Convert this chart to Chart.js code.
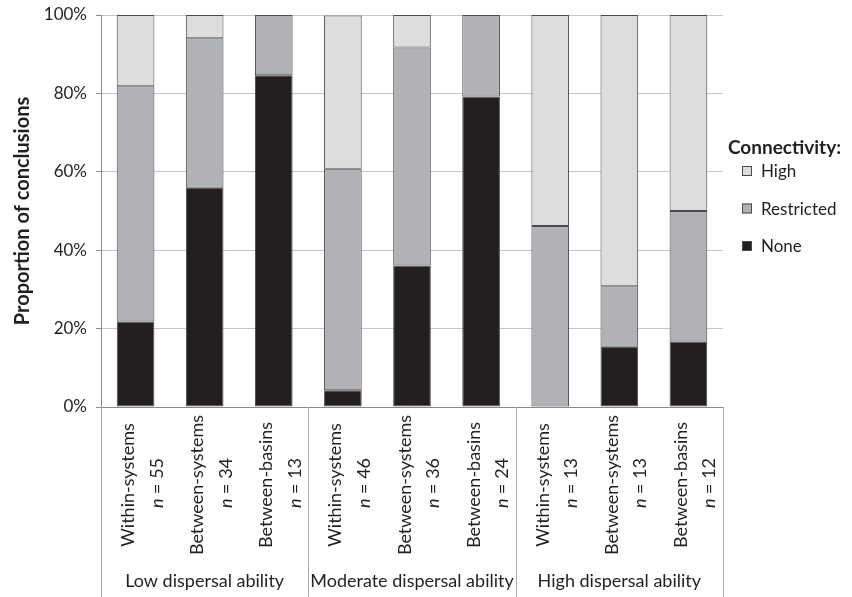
<!DOCTYPE html>
<html>
<head>
<meta charset="utf-8">
<script src="https://cdn.jsdelivr.net/npm/chart.js@4.4.0/dist/chart.umd.min.js"></script>
<style>
  html, body { margin: 0; padding: 0; background: #fff; }
  canvas { display: block; }
</style>
</head>
<body>
<canvas id="chart" width="852" height="597"></canvas>
<script>
// Data (percent of conclusions)
const categories = ["Within-systems", "Between-systems", "Between-basins",
                    "Within-systems", "Between-systems", "Between-basins",
                    "Within-systems", "Between-systems", "Between-basins"];
const sampleSizes = [55, 34, 13, 46, 36, 24, 13, 13, 12];
const groups = ["Low dispersal ability", "Moderate dispersal ability", "High dispersal ability"];
const noneVals = [21.8, 55.9, 84.6, 4.3, 36.1, 79.2, 0, 15.4, 16.7];
const restrictedVals = [60.0, 38.2, 15.4, 56.5, 55.6, 20.8, 46.2, 15.4, 33.3];
const highVals = [18.2, 5.9, 0, 39.1, 8.3, 0, 53.8, 69.2, 50.0];
const yTicks = [0, 20, 40, 60, 80, 100];

const FONT = "Lato, 'Liberation Sans', sans-serif";
const TEXT = "#231f20";
const AXIS = "#8a8a8a";

// labels under the axis, group separators and the legend
const extras = {
  id: "extras",
  afterDraw(chart) {
    const { ctx, chartArea: area, scales: { x } } = chart;
    const bottom = chart.height;

    const edges = [area.left];
    for (let g = 1; g < groups.length; g++) {
      edges.push((x.getPixelForValue(g * 3 - 1) + x.getPixelForValue(g * 3)) / 2);
    }
    edges.push(area.right);

    ctx.save();
    ctx.strokeStyle = "#ababab";
    ctx.lineWidth = 1;
    edges.forEach(e => {
      const px = Math.round(e) + 0.5;
      ctx.beginPath();
      ctx.moveTo(px, area.bottom);
      ctx.lineTo(px, bottom);
      ctx.stroke();
    });

    // rotated category labels
    ctx.fillStyle = TEXT;
    categories.forEach((c, i) => {
      const cx = x.getPixelForValue(i);
      ctx.save();
      ctx.translate(cx - 1.5, area.bottom);
      ctx.rotate(-Math.PI / 2);
      ctx.textBaseline = "alphabetic";
      ctx.textAlign = "center";
      ctx.font = "18px " + FONT;
      ctx.fillText(c, -78, 0);

      ctx.textAlign = "left";
      ctx.font = "italic 18px " + FONT;
      const nW = ctx.measureText("n").width;
      ctx.font = "18px " + FONT;
      const rest = " = " + sampleSizes[i];
      const rW = ctx.measureText(rest).width;
      const start = -76 - (nW + rW) / 2;
      ctx.font = "italic 18px " + FONT;
      ctx.fillText("n", start, 28.5);
      ctx.font = "18px " + FONT;
      ctx.fillText(rest, start + nW, 28.5);
      ctx.restore();
    });

    // group labels
    ctx.font = "18px " + FONT;
    ctx.textAlign = "center";
    ctx.textBaseline = "alphabetic";
    groups.forEach((g, i) => {
      ctx.fillText(g, (edges[i] + edges[i + 1]) / 2, area.bottom + 180);
    });

    // legend (top item first, like the stack)
    const lx = area.right + 5;
    const cy = (area.top + area.bottom) / 2;
    ctx.textAlign = "left";
    ctx.font = "bold 19px " + FONT;
    ctx.fillText("Connectivity:", lx, cy - 57);
    const items = chart.data.datasets.slice().reverse();
    ctx.font = "17px " + FONT;
    ctx.textBaseline = "middle";
    items.forEach((ds, k) => {
      const iy = cy - 40 + k * 37.5;
      ctx.fillStyle = ds.backgroundColor;
      ctx.fillRect(lx + 14, iy - 5, 10, 10);
      ctx.strokeStyle = "#4a4a4a";
      ctx.strokeRect(lx + 14.5, iy - 4.5, 9, 9);
      ctx.fillStyle = TEXT;
      ctx.fillText(ds.label, lx + 33, iy + 1);
    });
    ctx.restore();
  }
};

const barStyle = {
  borderColor: "#4a4a4a",
  borderWidth: 1,
  borderSkipped: false,
  barPercentage: 0.545,
  categoryPercentage: 1
};

new Chart(document.getElementById("chart"), {
  type: "bar",
  data: {
    labels: categories,
    datasets: [
      { label: "None", data: noneVals, backgroundColor: "#231f20", ...barStyle },
      { label: "Restricted", data: restrictedVals, backgroundColor: "#b1b2b5", ...barStyle },
      { label: "High", data: highVals, backgroundColor: "#dcdddf", ...barStyle }
    ]
  },
  options: {
    responsive: false,
    animation: false,
    layout: { padding: { top: 15, right: 129, bottom: 190, left: 0 } },
    plugins: {
      legend: { display: false },
      tooltip: { enabled: false }
    },
    scales: {
      x: {
        stacked: true,
        grid: { display: false },
        border: { display: true, color: AXIS },
        ticks: { display: false },
        afterFit: s => { s.height = 0; }
      },
      y: {
        stacked: true,
        min: 0,
        max: 100,
        afterBuildTicks: s => { s.ticks = yTicks.map(v => ({ value: v })); },
        afterFit: s => { s.width = 101; s.paddingTop = 0; s.paddingBottom = 0; },
        ticks: {
          padding: 9,
          color: TEXT,
          font: { family: FONT, size: 17 },
          callback: v => v + "%"
        },
        grid: { color: "#c6c6c6", tickColor: AXIS, tickLength: 5 },
        border: { color: AXIS },
        title: {
          display: true,
          text: "Proportion of conclusions",
          color: TEXT,
          font: { family: FONT, size: 20, weight: "bold" },
          padding: { top: 11, bottom: 4 }
        }
      }
    }
  },
  plugins: [extras]
});
</script>
</body>
</html>
